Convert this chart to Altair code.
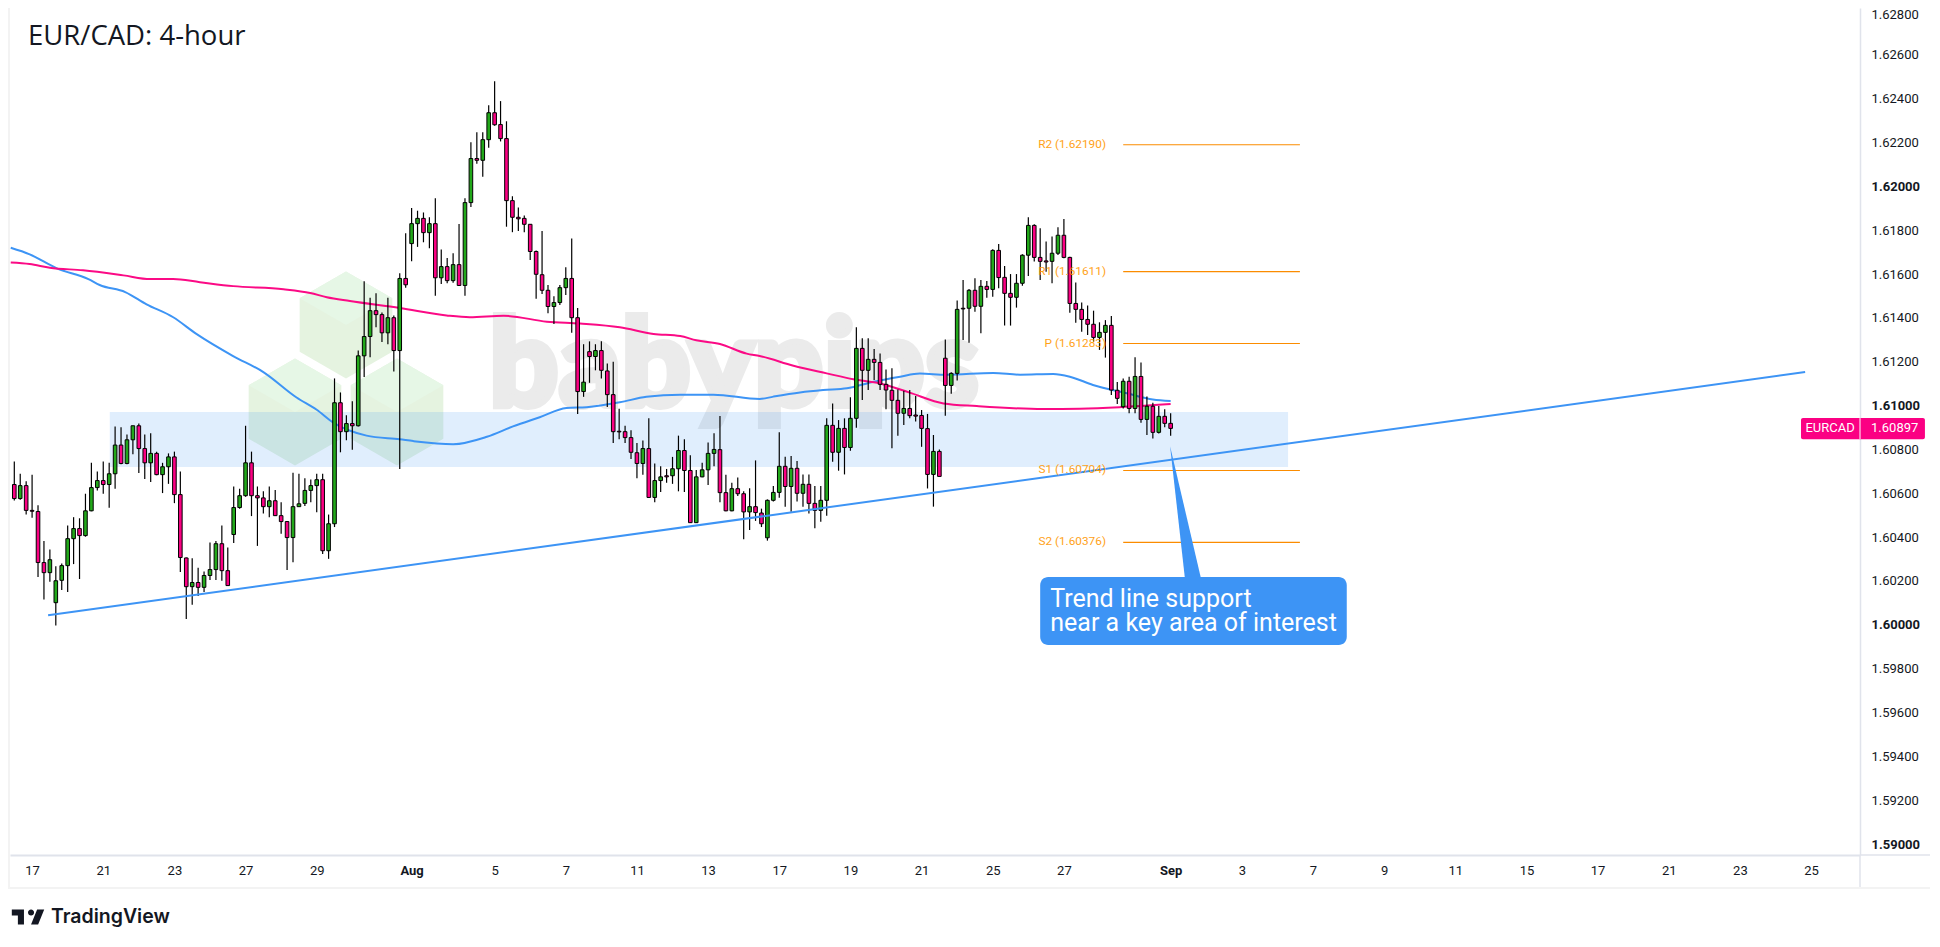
import altair as alt
import pandas as pd

highs = [160745,160689,160655,160685,160545,160382,160344,160267,160280,160453,
160491,160486,160598,160739,160699,160745,160739,160905,160901,160868,
160908,160918,160868,160874,160790,160739,160782,160790,160699,160307,
160304,160260,160243,160375,160382,160453,160353,160631,160621,160908,
160790,160631,160609,160631,160615,160559,160474,160694,160689,160669,
160663,160689,160689,160503,161124,161060,160956,161020,161251,161567,
161492,161513,161425,161492,161411,161604,161786,161901,161889,161881,
161859,161946,161712,161673,161695,161828,161946,162201,162247,162247,
162370,162480,162389,162297,161955,161904,161867,161827,161707,161796,
161550,161499,161550,161631,161762,161445,161280,161293,161280,161293,
161192,161200,160986,160908,160888,160829,160841,160942,160736,160723,
160711,160766,160863,160846,160773,160706,160739,160832,160874,160952,
160685,160648,160672,160609,160623,160750,160530,160572,160633,160878,
160767,160770,160747,160686,160686,160633,160633,160942,161010,160934,
160942,161038,161357,161307,161307,161258,161238,161165,161170,161074,
161068,161071,161044,160980,160962,160866,160800,161302,161152,161479,
161573,161532,161581,161573,161568,161713,161737,161637,161600,161600,
161690,161859,161827,161809,161748,161771,161813,161851,161679,161562,
161470,161457,161433,161380,161390,161409,161108,161124,161132,161220,
161197,161041,161013,160998,160983,160965]
lows = [160567,160570,160503,160488,160218,160115,160196,159997,160159,160150,
160277,160209,160402,160518,160613,160598,160534,160621,160733,160733,
160778,160692,160665,160652,160682,160601,160643,160555,160241,160027,
160091,160132,160150,160204,160204,160201,160179,160373,160530,160584,
160496,160360,160508,160491,160496,160415,160250,160285,160539,160542,
160559,160513,160323,160301,160446,160787,160842,160799,160905,161131,
161221,161357,161290,161280,161155,160711,161538,161659,161724,161745,
161718,161501,161555,161558,161560,161546,161501,161906,162103,162044,
162176,162277,162205,161816,161791,161796,161791,161664,161487,161509,
161421,161372,161459,161504,161332,160962,161040,161104,161161,161124,
160994,160829,160846,160829,160756,160669,160685,160579,160559,160606,
160648,160643,160609,160606,160464,160464,160673,160638,160723,160559,
160518,160518,160588,160390,160432,160474,160446,160384,160562,160580,
160539,160516,160562,160539,160508,160440,160470,160498,160744,160703,
160686,160794,160899,161025,161071,161117,161071,160983,160805,160863,
160911,160942,160927,160812,160622,160539,160677,160954,161054,161114,
161299,161287,161428,161330,161492,161497,161535,161365,161365,161447,
161547,161591,161657,161573,161611,161558,161687,161672,161424,161378,
161337,161322,161292,161254,161219,161048,161007,160987,160965,160965,
160922,160866,160850,160873,160901,160863]
opens = [160640,160576,160635,160522,160517,160284,160238,160101,160203,160270,
160393,160439,160407,160520,160626,160658,160640,160689,160820,160736,
160844,160908,160804,160739,160782,160685,160721,160766,160594,160305,
160174,160193,160171,160225,160252,160370,160247,160412,160535,160589,
160739,160589,160579,160539,160566,160498,160471,160398,160539,160554,
160613,160635,160662,160338,160461,161013,160881,160918,160908,161227,
161315,161433,161415,161332,161401,161251,161580,161739,161830,161854,
161789,161830,161583,161634,161570,161643,161548,161926,162127,162119,
162213,162336,162282,162218,161935,161859,161854,161827,161703,161597,
161526,161452,161470,161538,161580,161401,161064,161246,161224,161251,
161158,161050,160883,160881,160854,160785,160736,160804,160581,160658,
160680,160680,160712,160795,160704,160466,160675,160707,160782,160799,
160603,160520,160621,160598,160515,160539,160510,160397,160568,160604,
160723,160631,160714,160600,160641,160554,160522,160568,160910,160787,
160896,160809,160942,161261,161161,161211,161197,161097,161070,161024,
160965,160987,160957,160955,160895,160686,160791,161216,161092,161147,
161444,161444,161526,161453,161544,161530,161708,161585,161512,161494,
161558,161686,161822,161676,161660,161658,161695,161777,161676,161466,
161439,161393,161371,161311,161334,161366,161070,160995,161111,160987,
161133,160937,160997,160878,160951,160919]
closes = [160576,160635,160522,160518,160284,160238,160297,160201,160270,160393,
160439,160407,160520,160626,160658,160640,160689,160820,160736,160844,
160908,160804,160739,160782,160685,160721,160766,160594,160307,160174,
160193,160171,160225,160252,160370,160247,160179,160535,160589,160739,
160589,160579,160539,160566,160498,160471,160398,160539,160552,160613,
160635,160662,160338,160461,161013,160881,160918,160908,161227,161315,
161433,161415,161332,161401,161251,161580,161551,161830,161854,161789,
161830,161583,161634,161570,161643,161548,161926,162127,162119,162213,
162336,162281,162218,161935,161859,161852,161827,161703,161599,161526,
161452,161470,161538,161580,161401,161064,161107,161224,161251,161161,
161050,160881,160880,160854,160787,160736,160804,160581,160658,160675,
160675,160712,160795,160704,160466,160675,160707,160782,160800,160603,
160520,160621,160598,160515,160539,160512,160461,160568,160604,160723,
160631,160714,160600,160641,160554,160522,160568,160910,160787,160896,
160809,160942,161261,161161,161211,161197,161097,161071,161024,160965,
160987,160954,160952,160896,160686,160791,160677,161092,161147,161439,
161441,161526,161453,161544,161530,161708,161584,161512,161494,161558,
161686,161822,161676,161658,161655,161695,161777,161676,161466,161439,
161393,161371,161311,161334,161366,161071,161033,161111,160987,161133,
160937,160997,160878,160951,160919,160896]

ma_blue_i = [-0.6,2.6,7.1,12.5,14.4,18.7,22.3,26.8,30.7,36.9,42,47.6,51,53.8,59.4,65,67.3,74,79.7,84.1,88.6,93.1,96.5,102.1,106.6,112.3,117.9,125.7,128,132.5,136.4,140.4,144.9,149.4,152.7,157.2,165.1,169.6,175.2,178,181.9,187.6,192,195]
ma_blue_p = [161720,161690,161627,161577,161550,161518,161462,161403,161327,161226,161153,161037,160981,160922,160863,160846,160838,160824,160858,160905,160947,160989,160993,161015,161040,161050,161050,161030,161041,161060,161071,161079,161109,161132,161146,161141,161149,161141,161144,161132,161094,161056,161028,161021]
ma_pink_i = [-0.6,2.6,6,11.6,18.4,22.9,26.8,31.3,36.9,45.4,49.9,52.7,56.6,65,72.9,76.8,82.5,89.8,95.4,102.1,107.8,112.3,115,119,123.5,125.7,131.4,137,141.5,146,151,156.7,162.3,173.5,179.7,186.4,195]
ma_pink_p = [161653,161646,161629,161617,161594,161577,161578,161563,161545,161531,161514,161494,161477,161445,161411,161403,161410,161383,161374,161357,161327,161317,161298,161281,161237,161226,161182,161147,161120,161101,161059,161010,160998,160984,160986,160993,161007]

trend_i = [5.7, 302]
trend_p = [1.60044, 1.61153]
zone_i = [16.1, 214.8]
zone_p = [1.60971, 1.60720]

piv_names = ["R2", "R1", "P", "S1", "S2"]
piv_vals = [1.62190, 1.61611, 1.61283, 1.60704, 1.60376]

tick_i = [3,15,27,39,51,67,81,93,105,117,129,141,153,165,177,195,207,219,231,243,255,267,279,291,303]
tick_l = ["17","21","23","27","29","Aug","5","7","11","13","17","19","21","25","27","Sep","3","7","9","11","15","17","21","23","25"]
price_ticks = [round(1.590 + 0.002*k, 3) for k in range(20)]
last_price = 1.60897

INK = "#131722"
GREEN = "#22a81a"
PINK = "#fb0083"
BLUE = "#3d94f5"
ORANGE = "#ff9800"
LINE = "#e0e3eb"
FRAME = "#f3f3f3"
FONT = "Roboto"

xs = alt.Scale(domain=[-0.725, 311.25], nice=False, zero=False, padding=0)
ys = alt.Scale(domain=[1.58950, 1.628137], nice=False, zero=False, padding=0)

ticks_js = "[" + ",".join(str(v) for v in tick_i) + "]"
labs_js = "[" + ",".join(f"'{v}'" for v in tick_l) + "]"
x_axis = alt.Axis(
    values=tick_i, labelExpr=f"{labs_js}[indexof({ticks_js},datum.value)]", title=None,
    grid=False, ticks=False, domainColor=LINE, domainWidth=2, labelColor=INK,
    labelFontSize=13, labelFont=FONT, labelPadding=9, labelFlush=False, labelOverlap=False,
    labelFontWeight=alt.condition("datum.value==67||datum.value==195", alt.value(700), alt.value(400)))
y_axis = alt.Axis(
    orient="right", values=price_ticks, format=".5f", grid=False, ticks=False, title=None,
    domainColor=LINE, domainWidth=1.5, labelColor=INK, labelFontSize=13, labelFont=FONT,
    labelPadding=11, labelOverlap=False, labelFlush=False,
    labelOffset=alt.condition("datum.value>1.6279", alt.value(3), alt.value(0)),
    labelFontWeight=alt.condition("abs(datum.value*100-round(datum.value*100))<0.0001", alt.value(700), alt.value(400)))

X = lambda f="i": alt.X(f"{f}:Q", scale=xs, axis=x_axis)
Y = lambda f="p": alt.Y(f"{f}:Q", scale=ys, axis=y_axis)

one = pd.DataFrame({"a": [0]})

candles = pd.DataFrame({
    "i": list(range(len(highs))),
    "h": [v/1e5 for v in highs], "l": [v/1e5 for v in lows],
    "o": [v/1e5 for v in opens], "c": [v/1e5 for v in closes],
})
candles["up"] = candles.c >= candles.o

HEX = "M0,-1L0.866,-0.5L0.866,0.5L0,1L-0.866,0.5L-0.866,-0.5Z"
FACE = "M0,-1L0.866,-0.5L0,0L-0.866,-0.5Z"
hexes = pd.DataFrame({"hx": [336, 285, 387], "hy": [317, 404, 404]})
hex_base = alt.Chart(hexes).mark_point(shape=HEX, filled=True, size=11449, opacity=1, color="#e5f3e0", strokeWidth=0).encode(
    x=alt.X("hx:Q", scale=None, axis=None), y=alt.Y("hy:Q", scale=None, axis=None))
hex_top = alt.Chart(hexes).mark_point(shape=FACE, filled=True, size=11449, opacity=1, color="#e6f7e6", strokeWidth=0).encode(
    x=alt.X("hx:Q", scale=None, axis=None), y=alt.Y("hy:Q", scale=None, axis=None))

watermark = alt.Chart(one).mark_text(text="babypips", font="Lato", fontWeight=900, fontSize=122,
        color="#ebebeb", stroke="#ebebeb", strokeWidth=6, align="center", baseline="alphabetic").encode(x=alt.value(724), y=alt.value(398))

zone = alt.Chart(pd.DataFrame({"a": [zone_i[0]], "b": [zone_i[1]], "t": [zone_p[0]], "u": [zone_p[1]]})).mark_rect(
    color="#3d94f5", opacity=0.16).encode(x=X("a"), x2="b:Q", y=Y("t"), y2="u:Q")

def series(i, p, color):
    d = pd.DataFrame({"i": i, "p": [v/1e5 for v in p]})
    return alt.Chart(d).mark_line(color=color, strokeWidth=2, interpolate="monotone", clip=True).encode(x=X(), y=Y())

ma_b = series(ma_blue_i, ma_blue_p, BLUE)
ma_p = series(ma_pink_i, ma_pink_p, "#fb0a85")

wicks = alt.Chart(candles).mark_rule(color="#000000", strokeWidth=1.2).encode(x=X(), y=Y("h"), y2="l:Q")
bodies = alt.Chart(candles).mark_bar(size=3.6, stroke="#000000", strokeWidth=1).encode(
    x=X(), y=Y("o"), y2="c:Q",
    color=alt.condition("datum.up", alt.value(GREEN), alt.value(PINK)))

trend = alt.Chart(pd.DataFrame({"i": trend_i, "p": trend_p})).mark_line(color=BLUE, strokeWidth=2).encode(x=X(), y=Y())

pivdf = pd.DataFrame({"p": piv_vals, "a": [187.0]*5, "b": [216.8]*5, "tx": [184.1]*5,
                      "label": [f"{n} ({v:.5f})" for n, v in zip(piv_names, piv_vals)]})
piv_l = alt.Chart(pivdf).mark_rule(color="#fb8c00", strokeWidth=1.1).encode(x=X("a"), x2="b:Q", y=Y())
piv_t = alt.Chart(pivdf).mark_text(color=ORANGE, fontSize=11.8, font=FONT, align="right", baseline="middle", dy=-1, opacity=0.9).encode(
    x=X("tx"), y=Y(), text="label:N")

tail = alt.Chart(pd.DataFrame({"p": [1.60816, 1.60214], "a": [194.9, 197.4], "b": [194.9, 200.1]})).mark_area(
    orient="horizontal", color=BLUE).encode(y=Y(), x=X("a"), x2="b:Q")
box = alt.Chart(pd.DataFrame({"a": [173.0], "b": [224.7], "t": [1.60218], "u": [1.59908]})).mark_rect(
    color=BLUE, cornerRadius=8).encode(x=X("a"), x2="b:Q", y=Y("t"), y2="u:Q")
call = alt.Chart(pd.DataFrame({"i": [174.7, 174.7], "p": [1.60081, 1.59972],
        "t": ["Trend line support", "near a key area of interest"]})).mark_text(
    color="#ffffff", fontSize=25, font=FONT, align="left", baseline="alphabetic").encode(x=X(), y=Y(), text="t:N")

title = alt.Chart(one).mark_text(text="EUR/CAD: 4-hour", font="Open Sans", fontSize=27.5, color=INK,
        align="left", baseline="middle").encode(x=alt.value(18), y=alt.value(29))

tag = alt.Chart(pd.DataFrame({"a": [301.3], "b": [322.2], "t": [1.60943], "u": [1.60847]})).mark_rect(
    color=PINK, cornerRadius=2).encode(x=X("a"), x2="b:Q", y=Y("t"), y2="u:Q")
tag_sep = alt.Chart(pd.DataFrame({"i": [311.25], "t": [1.60943], "u": [1.60847]})).mark_rule(
    color="#ffffff", strokeWidth=1).encode(x=X(), y=Y("t"), y2="u:Q")
tag_t = alt.Chart(pd.DataFrame({"i": [306.2, 317.1], "p": [last_price, last_price], "t": ["EURCAD", f"{last_price:.5f}"]})).mark_text(
    color="#ffffff", fontSize=13, font=FONT, align="center", baseline="middle").encode(x=X(), y=Y(), text="t:N")

def prule(color, width, **kw):
    return alt.Chart(one).mark_rule(color=color, strokeWidth=width).encode(**{k: alt.value(v) for k, v in kw.items()})

frame = [
    prule(FRAME, 2, x=-1, y=0, y2=881),
    prule(FRAME, 2, x=1921, y=0, y2=881),
    prule(FRAME, 2, x=-2, x2=1922, y=880),
    prule(LINE, 1.5, x=1850, y=847, y2=879),
    prule(LINE, 1.5, x=1850, x2=1921, y=847),
]

TV = ("M-0.222,-0.4166H-0.888v0.3334h0.3334v0.5h0.3334V-0.4166Z"
      "m0.7778,0.8334h-0.3888l0.3334,-0.8334h0.3888l-0.3334,0.8334Z"
      "m-0.3888,-0.5a0.1666,0.1666 0 1 0 0,-0.3334a0.1666,0.1666 0 0 0 0,0.3334Z")
logo_i = alt.Chart(one).mark_point(shape=TV, filled=True, size=1330, color=INK, opacity=1, strokeWidth=0).encode(
    x=alt.value(18), y=alt.value(909))
logo_t = alt.Chart(one).mark_text(text="TradingView", font="Inter", fontWeight=600, fontSize=19.5, color=INK,
        align="left", baseline="middle").encode(x=alt.value(41), y=alt.value(909))

chart = alt.layer(
    hex_base, hex_top, watermark, zone, ma_b, ma_p, wicks, bodies, trend,
    piv_l, piv_t, tail, box, call, title, *frame, tag, tag_sep, tag_t, logo_i, logo_t,
).properties(
    width=1850, height=847,
    padding={"left": 2, "top": 0, "right": 70, "bottom": 72},
    autosize=alt.AutoSizeParams(type="none"),
    background="#ffffff",
).configure_view(stroke=None)

chart.save("out.html", embed_options={"renderer": "svg", "actions": False})
